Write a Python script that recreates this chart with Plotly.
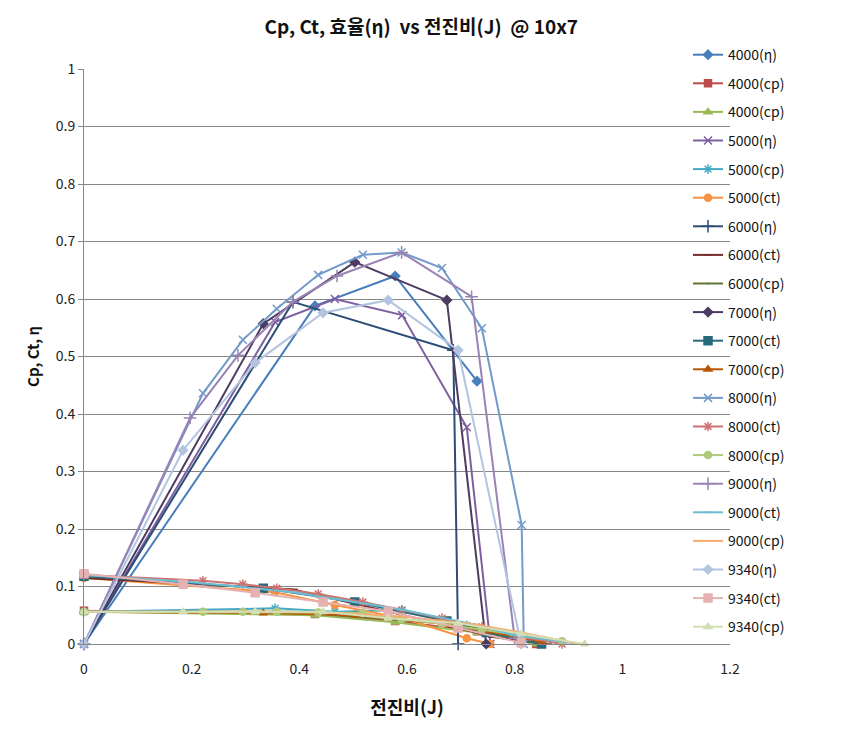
import plotly.graph_objects as go

# ---------------- data ----------------
J4000 = [0, 0.429, 0.578, 0.730]
eta4000 = [0, 0.588, 0.640, 0.457]
J4000c = [0, 0.429, 0.578, 0.730, 0.84]
cpA4000 = [0.058, 0.052, 0.040, 0.022, 0.0]
cpB4000 = [0.056, 0.050, 0.038, 0.020, 0.0]

J5000 = [0, 0.355, 0.466, 0.591, 0.711, 0.755]
eta5000 = [0, 0.560, 0.600, 0.572, 0.377, 0.0]
cp5000 = [0.056, 0.062, 0.056, 0.059, 0.032, 0.022]
ct5000 = [0.115, 0.090, 0.068, 0.045, 0.010, 0.0]

J6000 = [0, 0.388, 0.686, 0.695]
eta6000 = [0, 0.595, 0.511, 0.0]
J6000c = [0, 0.388, 0.686, 0.76, 0.86]
ct6000 = [0.115, 0.095, 0.030, 0.012, 0.0]
cp6000 = [0.056, 0.056, 0.035, 0.022, 0.005]

J7000 = [0, 0.333, 0.503, 0.674, 0.747]
eta7000 = [0, 0.557, 0.664, 0.598, 0.0]
J7000c = [0, 0.333, 0.503, 0.674, 0.747, 0.85]
ct7000 = [0.118, 0.097, 0.073, 0.040, 0.020, 0.0]
cp7000 = [0.056, 0.054, 0.050, 0.035, 0.022, 0.004]

J8000 = [0, 0.221, 0.295, 0.358, 0.435, 0.518, 0.590, 0.665, 0.739, 0.813, 0.817]
eta8000 = [0, 0.436, 0.529, 0.583, 0.642, 0.677, 0.681, 0.654, 0.549, 0.207, 0.0]
J8000c = [0, 0.221, 0.295, 0.358, 0.435, 0.518, 0.590, 0.665, 0.739, 0.813, 0.888]
ct8000 = [0.12, 0.110, 0.104, 0.097, 0.087, 0.073, 0.059, 0.045, 0.030, 0.012, 0.0]
cp8000 = [0.056, 0.056, 0.056, 0.056, 0.055, 0.054, 0.043, 0.035, 0.025, 0.015, 0.005]

J9000 = [0, 0.197, 0.286, 0.388, 0.470, 0.590, 0.720, 0.800]
eta9000 = [0, 0.393, 0.502, 0.595, 0.640, 0.681, 0.604, 0.01]
J9000c = [0, 0.197, 0.286, 0.388, 0.470, 0.590, 0.720, 0.800, 0.92]
ct9000 = [0.12, 0.108, 0.100, 0.090, 0.078, 0.060, 0.035, 0.015, 0.0]
cp9000 = [0.056, 0.056, 0.056, 0.056, 0.054, 0.048, 0.035, 0.022, 0.0]

J9340 = [0, 0.184, 0.318, 0.444, 0.565, 0.695, 0.812]
eta9340 = [0, 0.337, 0.489, 0.576, 0.598, 0.511, 0.0]
ct9340 = [0.122, 0.104, 0.089, 0.073, 0.057, 0.028, 0.002]
J9340c = [0, 0.184, 0.318, 0.444, 0.565, 0.695, 0.812, 0.93]
cp9340 = [0.056, 0.056, 0.056, 0.056, 0.045, 0.036, 0.018, 0.0]

series = [
    ("4000(η)", J4000, eta4000, "#4A7EBB", "diamond", 7),
    ("4000(cp)", J4000c, cpA4000, "#BE4B48", "square", 7),
    ("4000(cp)", J4000c, cpB4000, "#98B954", "triangle-up", 7),
    ("5000(η)", J5000, eta5000, "#7D60A0", "x-thin-open", 8),
    ("5000(cp)", J5000, cp5000, "#46AAC5", "asterisk-open", 8),
    ("5000(ct)", J5000, ct5000, "#F69240", "circle", 7),
    ("6000(η)", J6000, eta6000, "#2C4D75", "cross-thin-open", 9),
    ("6000(ct)", J6000c, ct6000, "#772C2A", "line-ew-open", 7),
    ("6000(cp)", J6000c, cp6000, "#5F7530", "line-ew-open", 1),
    ("7000(η)", J7000, eta7000, "#4D3B62", "diamond", 7),
    ("7000(ct)", J7000c, ct7000, "#276A7C", "square", 8),
    ("7000(cp)", J7000c, cp7000, "#B65708", "triangle-up", 7),
    ("8000(η)", J8000, eta8000, "#729ACA", "x-thin-open", 8),
    ("8000(ct)", J8000c, ct8000, "#CD7371", "asterisk-open", 8),
    ("8000(cp)", J8000c, cp8000, "#AFC97A", "circle", 7),
    ("9000(η)", J9000, eta9000, "#9983B5", "cross-thin-open", 9),
    ("9000(ct)", J9000c, ct9000, "#6FBDD1", "line-ew-open", 7),
    ("9000(cp)", J9000c, cp9000, "#F9AB6B", "line-ew-open", 1),
    ("9340(η)", J9340, eta9340, "#B3C4E0", "diamond", 7),
    ("9340(ct)", J9340, ct9340, "#E6B2B1", "square", 8),
    ("9340(cp)", J9340c, cp9340, "#D2DFB4", "triangle-up", 7),
]

x_ticks = [0, 0.2, 0.4, 0.6, 0.8, 1, 1.2]
x_tick_labels = ["0", "0.2", "0.4", "0.6", "0.8", "1", "1.2"]
y_ticks = [0, 0.1, 0.2, 0.3, 0.4, 0.5, 0.6, 0.7, 0.8, 0.9, 1]
y_tick_labels = ["0", "0.1", "0.2", "0.3", "0.4", "0.5", "0.6", "0.7", "0.8", "0.9", "1"]

FONT = "Malgun Gothic, Noto Sans CJK KR, sans-serif"

fig = go.Figure()
for i, (name, xs, ys, color, sym, size) in enumerate(series):
    fig.add_trace(go.Scatter(
        x=xs, y=ys, name=name, mode="lines+markers",
        line=dict(color=color, width=2),
        marker=dict(symbol=sym, size=size, color=color,
                    line=dict(color=color, width=1.5)),
        legendgroup="g%d" % i,
        cliponaxis=False,
    ))

fig.update_layout(
    width=851, height=742,
    margin=dict(l=84, r=121, t=69, b=98),
    paper_bgcolor="white", plot_bgcolor="white",
    font=dict(family=FONT, size=13, color="#222"),
    title=dict(text="<b>Cp, Ct, 효율(η)  vs 전진비(J)  @ 10x7</b>",
               x=0.495, xanchor="center", y=0.963, yanchor="middle",
               font=dict(size=19, family=FONT, color="#111")),
    legend=dict(x=0.935, xanchor="left", y=1.052, yanchor="top",
                bgcolor="rgba(0,0,0,0)", font=dict(size=14, family=FONT, color="#111"),
                tracegroupgap=7.4, traceorder="grouped", maxheight=742),
    showlegend=True,
)
fig.update_xaxes(range=[0, 1.2], tickvals=x_ticks, ticktext=x_tick_labels,
                 showgrid=False, zeroline=False, showline=True, linecolor="#868686",
                 linewidth=1, ticks="outside", ticklen=12, tickcolor="rgba(0,0,0,0)",
                 tickfont=dict(size=14, color="#222"),
                 title=dict(text="<b>전진비(J)</b>", font=dict(size=18, family=FONT, color="#111"),
                            standoff=24))
fig.update_yaxes(range=[0, 1], tickvals=y_ticks, ticktext=y_tick_labels,
                 showgrid=True, gridcolor="#868686", gridwidth=1, zeroline=False,
                 showline=True, linecolor="#868686", linewidth=1,
                 ticks="outside", ticklen=5, tickcolor="#868686",
                 tickfont=dict(size=14, color="#222"),
                 title=dict(text="<b>Cp, Ct, η</b>", font=dict(size=15, family=FONT, color="#111"),
                            standoff=12))

fig.write_html("out.html")
